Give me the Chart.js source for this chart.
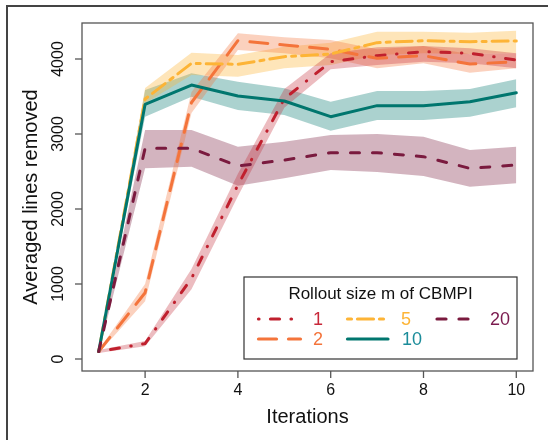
<!DOCTYPE html>
<html>
<head>
<meta charset="utf-8">
<script src="https://cdn.jsdelivr.net/npm/chart.js@4/dist/chart.umd.min.js"></script>
<style>
    body { margin: 0; background: #ffffff; }
    #chart { display: block; }
</style>
</head>
<body>
<canvas id="chart" width="548" height="440"></canvas>
<script>
const iterations = [1, 2, 3, 4, 5, 6, 7, 8, 9, 10];
const xTicks = [2, 4, 6, 8, 10];
const yTicks = [0, 1000, 2000, 3000, 4000];

// rollout size m = 1
const m1Mean  = [100, 205, 1075, 2320, 3470, 3964, 4044, 4098, 4076, 3987];
const m1Upper = [120, 240, 1200, 2470, 3600, 4076, 4156, 4173, 4142, 4076];
const m1Lower = [80, 170, 930, 2170, 3350, 3862, 3920, 3964, 3942, 3876];

// m = 2
const m2Mean  = [100, 884, 3420, 4244, 4187, 4129, 4009, 4044, 3933, 3964];
const m2Upper = [120, 1000, 3560, 4342, 4289, 4253, 4129, 4173, 4062, 4076];
const m2Lower = [80, 770, 3280, 4120, 4076, 4009, 3876, 3942, 3818, 3876];

// m = 5
const m5Mean  = [100, 3467, 3942, 3929, 4031, 4067, 4218, 4244, 4231, 4240];
const m5Upper = [120, 3615, 4084, 4053, 4164, 4218, 4364, 4364, 4351, 4378];
const m5Lower = [80, 3409, 3787, 3764, 3876, 3920, 4053, 4076, 4067, 4076];

// m = 10
const m10Mean  = [100, 3396, 3653, 3507, 3440, 3231, 3378, 3378, 3431, 3551];
const m10Upper = [120, 3587, 3809, 3698, 3609, 3431, 3573, 3573, 3600, 3729];
const m10Lower = [80, 3231, 3498, 3320, 3253, 3044, 3187, 3187, 3231, 3356];

// m = 20
const m20Mean  = [100, 2809, 2809, 2573, 2653, 2751, 2751, 2698, 2542, 2587];
const m20Upper = [120, 3053, 3053, 2831, 2898, 2987, 3000, 2964, 2787, 2831];
const m20Lower = [80, 2542, 2564, 2311, 2409, 2520, 2493, 2440, 2298, 2342];

const seriesLabels = ["1", "2", "5", "10", "20"];
const FONT = "'Liberation Sans', Arial, sans-serif";

const series = [
    { label: "1",  mean: m1Mean,  upper: m1Upper,  lower: m1Lower,  color: "#c0202e", band: "rgba(192,32,46,0.3)",   text: "#c8283a", dash: [0.5, 11.5, 9, 11.5] },
    { label: "2",  mean: m2Mean,  upper: m2Upper,  lower: m2Lower,  color: "#f4743b", band: "rgba(244,116,59,0.33)", text: "#f4743b", dash: [18, 12] },
    { label: "5",  mean: m5Mean,  upper: m5Upper,  lower: m5Lower,  color: "#fdb436", band: "rgba(253,180,54,0.35)", text: "#fdb436", dash: [4, 6, 16, 6] },
    { label: "10", mean: m10Mean, upper: m10Upper, lower: m10Lower, color: "#00766e", band: "rgba(0,118,110,0.33)",  text: "#1b8c9a", dash: [] },
    { label: "20", mean: m20Mean, upper: m20Upper, lower: m20Lower, color: "#7a1a3e", band: "rgba(122,26,62,0.33)",  text: "#7a1a4e", dash: [9, 13] }
];

function toPoints(values) {
    return iterations.map((it, i) => ({ x: it, y: values[i] }));
}

const datasets = [];
// bands first (drawn behind)
series.forEach((s) => {
    datasets.push({
        data: toPoints(s.upper),
        borderWidth: 0,
        pointRadius: 0,
        backgroundColor: s.band,
        fill: "+1",
        order: 2
    });
    datasets.push({
        data: toPoints(s.lower),
        borderWidth: 0,
        pointRadius: 0,
        fill: false,
        order: 2
    });
});
// mean lines
series.slice().reverse().forEach((s) => {
    datasets.push({
        data: toPoints(s.mean),
        borderColor: s.color,
        borderWidth: 3,
        borderDash: s.dash,
        borderCapStyle: "round",
        borderJoinStyle: "round",
        pointRadius: 0,
        fill: false,
        tension: 0,
        order: 1
    });
});

const decorations = {
    id: "decorations",
    afterDraw(chart) {
        const ctx = chart.ctx;
        const area = chart.chartArea;
        const xs = chart.scales.x;
        const ys = chart.scales.y;
        ctx.save();

        // outer frame
        ctx.strokeStyle = "#444444";
        ctx.lineWidth = 2;
        ctx.beginPath();
        ctx.moveTo(7, 445);
        ctx.lineTo(7, 6);
        ctx.lineTo(553, 6);
        ctx.stroke();

        // plot box
        ctx.strokeStyle = "#555555";
        ctx.lineWidth = 1.3;
        ctx.strokeRect(area.left, area.top, area.right - area.left, area.bottom - area.top);

        // x ticks
        ctx.fillStyle = "#111111";
        ctx.font = "16px " + FONT;
        ctx.textAlign = "center";
        ctx.textBaseline = "middle";
        xTicks.forEach((v) => {
            const px = xs.getPixelForValue(v);
            ctx.beginPath();
            ctx.moveTo(px, area.bottom);
            ctx.lineTo(px, area.bottom + 7);
            ctx.stroke();
            ctx.fillText(String(v), px, area.bottom + 20);
        });

        // y ticks, labels parallel to the axis
        yTicks.forEach((v) => {
            const py = ys.getPixelForValue(v);
            ctx.beginPath();
            ctx.moveTo(area.left, py);
            ctx.lineTo(area.left - 7, py);
            ctx.stroke();
            ctx.save();
            ctx.translate(area.left - 23, py);
            ctx.rotate(-Math.PI / 2);
            ctx.fillText(String(v), 0, 0);
            ctx.restore();
        });

        // axis titles
        ctx.font = "20px " + FONT;
        ctx.fillText("Iterations", (area.left + area.right) / 2, 417);
        ctx.save();
        ctx.translate(31, (area.top + area.bottom) / 2);
        ctx.rotate(-Math.PI / 2);
        ctx.fillText("Averaged lines removed", 0, 0);
        ctx.restore();

        // legend box
        const lx = 244, ly = 277, lw = 273, lh = 82;
        ctx.fillStyle = "#ffffff";
        ctx.fillRect(lx, ly, lw, lh);
        ctx.strokeStyle = "#333333";
        ctx.lineWidth = 1.2;
        ctx.strokeRect(lx, ly, lw, lh);
        ctx.fillStyle = "#111111";
        ctx.font = "17px " + FONT;
        ctx.fillText("Rollout size m of CBMPI", 380.5, 294);

        const slots = [
            { x0: 258.5, x1: 291.5, tx: 318, y: 319 },
            { x0: 258.5, x1: 300.5, tx: 318, y: 339 },
            { x0: 347.5, x1: 388, tx: 406, y: 319 },
            { x0: 347.5, x1: 388, tx: 412, y: 339 },
            { x0: 437, x1: 470, tx: 500, y: 319 }
        ];
        ctx.font = "18px " + FONT;
        series.forEach((s, i) => {
            const slot = slots[i];
            ctx.strokeStyle = s.color;
            ctx.lineWidth = 3.2;
            ctx.lineCap = "round";
            ctx.setLineDash(s.dash);
            ctx.beginPath();
            ctx.moveTo(slot.x0, slot.y);
            ctx.lineTo(slot.x1, slot.y);
            ctx.stroke();
            ctx.setLineDash([]);
            ctx.fillStyle = s.text;
            ctx.fillText(seriesLabels[i], slot.tx, slot.y + 1);
        });

        ctx.restore();
    }
};

new Chart(document.getElementById("chart"), {
    type: "line",
    data: { datasets: datasets },
    options: {
        responsive: false,
        animation: false,
        devicePixelRatio: 1,
        layout: { padding: { left: 82, right: 15, top: 23, bottom: 69 } },
        plugins: {
            legend: { display: false },
            tooltip: { enabled: false },
            filler: { propagate: false }
        },
        scales: {
            x: { type: "linear", min: 0.64, max: 10.36, display: false },
            y: { type: "linear", min: -160, max: 4480, display: false }
        }
    },
    plugins: [decorations]
});
</script>
</body>
</html>
